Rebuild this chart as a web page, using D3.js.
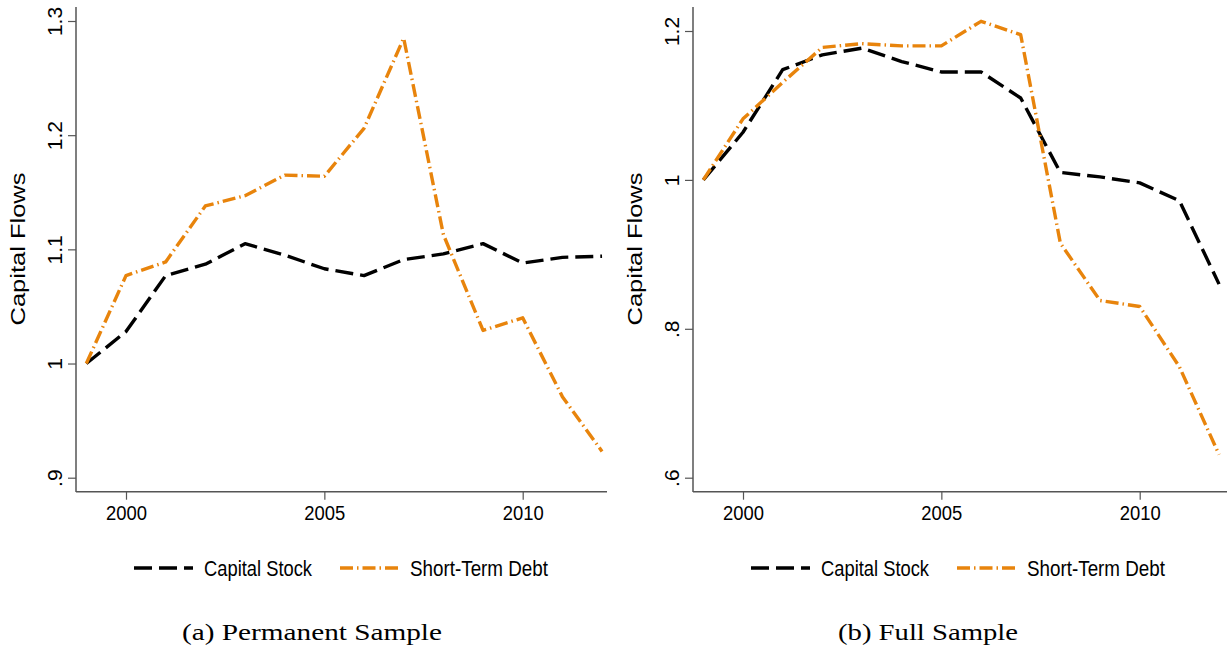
<!DOCTYPE html>
<html><head><meta charset="utf-8">
<script src="https://cdn.jsdelivr.net/npm/d3@7"></script>
<style>body{margin:0;background:#fff}svg{display:block}</style>
</head><body>
<svg id="c" width="1228" height="650"></svg>
<script>
const years = [1999,2000,2001,2002,2003,2004,2005,2006,2007,2008,2009,2010,2011,2012];
const permCapital = [1.000,1.028,1.077,1.087,1.105,1.095,1.083,1.077,1.091,1.096,1.105,1.088,1.093,1.094];
const permDebt    = [1.000,1.077,1.089,1.138,1.147,1.165,1.164,1.206,1.285,1.113,1.029,1.040,0.971,0.923];
const fullCapital = [1.000,1.064,1.148,1.168,1.177,1.159,1.145,1.145,1.110,1.010,1.004,0.996,0.972,0.860];
const fullDebt    = [1.000,1.082,1.131,1.178,1.183,1.180,1.180,1.213,1.195,0.915,0.838,0.830,0.749,0.631];
const xTicks = [2000,2005,2010];
const permYTicks = [0.9,1.0,1.1,1.2,1.3];
const permYLabels = [".9","1","1.1","1.2","1.3"];
const fullYTicks = [0.6,0.8,1.0,1.2];
const fullYLabels = [".6",".8","1","1.2"];
const seriesNames = ["Capital Stock","Short-Term Debt"];
const captions = ["(a) Permanent Sample","(b) Full Sample"];

const svg = d3.select("#c");
const ORANGE = "#e8840c";
const AX = "#555";
const styles = [
  {color:"#000", dash:"18,7", width:3.4},
  {color:ORANGE, dash:"13,4,1.5,4", width:3.4}
];
const legendW = [108, 138];

function panel(cfg){
  const g = svg.append("g");
  const x = d3.scaleLinear().domain([2000,2010]).range([cfg.x0, cfg.x0+396.7]);
  const y = d3.scaleLinear().domain(cfg.yDom).range(cfg.yRange);
  g.append("line").attr("x1",cfg.axX).attr("x2",cfg.axX).attr("y1",7).attr("y2",492)
    .attr("stroke",AX).attr("stroke-width",1.5);
  g.append("line").attr("x1",cfg.axX).attr("x2",cfg.xEnd).attr("y1",491.7).attr("y2",491.7)
    .attr("stroke",AX).attr("stroke-width",1.5);
  const ya = d3.axisLeft(y).tickValues(cfg.yTicks).tickSize(8).tickSizeOuter(0)
    .tickFormat((d,i)=>cfg.yLabels[i]);
  const yg = g.append("g").attr("transform",`translate(${cfg.axX},0)`).call(ya);
  yg.select(".domain").remove();
  yg.selectAll(".tick line").attr("stroke",AX).attr("stroke-width",1.2);
  yg.selectAll(".tick text").attr("fill","#000").attr("font-family","Liberation Sans, Arial, sans-serif")
    .attr("font-size",21).attr("text-anchor","middle").attr("dy",0)
    .attr("transform","translate(-21,0) rotate(-90) translate(0,7)").attr("x",0);
  const xa = d3.axisBottom(x).tickValues(xTicks).tickSize(8).tickSizeOuter(0).tickFormat(d3.format("d"));
  const xg = g.append("g").attr("transform","translate(0,491.7)").call(xa);
  xg.select(".domain").remove();
  xg.selectAll(".tick line").attr("stroke",AX).attr("stroke-width",1.2);
  xg.selectAll(".tick text").attr("fill","#000").attr("font-family","Liberation Sans, Arial, sans-serif")
    .attr("font-size",20).attr("y",14).attr("dy","0.71em")
    .attr("textLength",41).attr("lengthAdjust","spacingAndGlyphs");
  g.append("text").attr("transform",`translate(${cfg.axX-58},249) rotate(-90)`)
    .attr("text-anchor","middle").attr("dy","0.35em")
    .attr("font-family","Liberation Sans, Arial, sans-serif").attr("font-size",20)
    .attr("textLength",153).attr("lengthAdjust","spacingAndGlyphs")
    .text("Capital Flows");
  const line = d3.line().x((d,i)=>x(years[i])).y(d=>y(d));
  cfg.series.forEach((s,k)=>{
    g.append("path").datum(s).attr("d",line).attr("fill","none")
      .attr("stroke",styles[k].color).attr("stroke-width",styles[k].width)
      .attr("stroke-dasharray",styles[k].dash).attr("stroke-linejoin","round");
  });
  const lx = cfg.legX;
  const ly = 568;
  const legendPos = [{x1:lx, x2:lx+59, tx:lx+70},{x1:lx+206, x2:lx+268, tx:lx+276}];
  seriesNames.forEach((n,k)=>{
    g.append("line").attr("x1",legendPos[k].x1).attr("x2",legendPos[k].x2).attr("y1",ly).attr("y2",ly)
      .attr("stroke",styles[k].color).attr("stroke-width",styles[k].width).attr("stroke-dasharray",styles[k].dash);
    g.append("text").attr("x",legendPos[k].tx).attr("y",ly).attr("dy","0.35em")
      .attr("font-family","Liberation Sans, Arial, sans-serif").attr("font-size",22)
      .attr("textLength",legendW[k]).attr("lengthAdjust","spacingAndGlyphs")
      .text(n);
  });
  g.append("text").attr("x",cfg.capX).attr("y",640).attr("text-anchor","middle")
    .attr("font-family","Liberation Serif, Times New Roman, serif").attr("font-size",24)
    .attr("textLength",cfg.capW).attr("lengthAdjust","spacingAndGlyphs")
    .text(cfg.caption);
}

panel({x0:126, axX:76, xEnd:607, yDom:[0.9,1.3], yRange:[477.7,21], yTicks:permYTicks, yLabels:permYLabels,
  series:[permCapital, permDebt], legX:134, capX:312, capW:260, caption:captions[0]});
panel({x0:743, axX:693, xEnd:1227, yDom:[0.6,1.2], yRange:[477.7,31], yTicks:fullYTicks, yLabels:fullYLabels,
  series:[fullCapital, fullDebt], legX:751, capX:928, capW:180, caption:captions[1]});
</script>
</body></html>
